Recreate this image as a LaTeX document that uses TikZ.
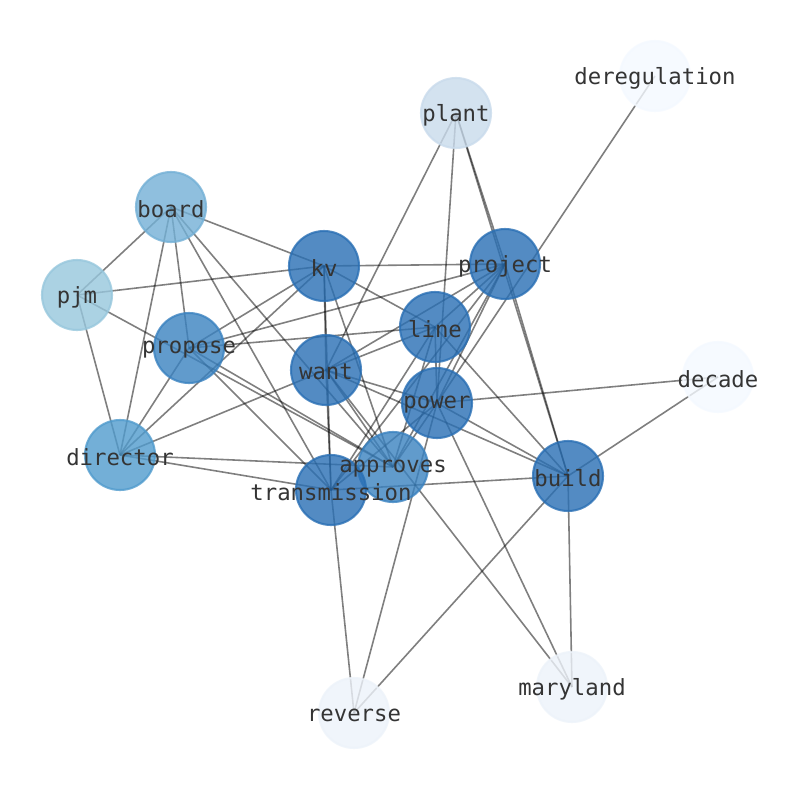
\documentclass[tikz,border=0pt]{standalone}
\usepackage{fontspec}
\setmonofont{DejaVu Sans Mono}
\definecolor{cdark}{RGB}{41,111,180}
\definecolor{cmid}{RGB}{58,130,192}
\definecolor{cdir}{RGB}{80,155,205}
\definecolor{cboard}{RGB}{115,176,214}
\definecolor{cpjm}{RGB}{151,199,221}
\definecolor{cplant}{RGB}{201,219,236}
\definecolor{cpale}{RGB}{244,249,255}
\definecolor{cpale2}{RGB}{237,243,250}
\definecolor{ctext}{RGB}{52,52,52}
\tikzset{
  nd/.style={circle, minimum size=70*0.01in, inner sep=0pt, line width=1.5pt, fill=#1, draw=#1, fill opacity=0.8, draw opacity=0.8},
  lbl/.style={font=\ttfamily\fontsize{16.1}{17}\selectfont, text=ctext, inner sep=0pt, yshift=-2*0.01in},
  ed/.style={draw=black, draw opacity=0.5, line width=1.15pt}
}
\begin{document}
\begin{tikzpicture}[x=0.01in, y=-0.01in]
\useasboundingbox (0,0) rectangle (794,790);
\fill[white] (0,0) rectangle (794,790);
% coordinates
\coordinate (deregulation) at (655,76);
\coordinate (plant) at (456,113);
\coordinate (board) at (171,207);
\coordinate (kv) at (324,266);
\coordinate (project) at (505,264);
\coordinate (pjm) at (77,295);
\coordinate (line) at (435,327);
\coordinate (propose) at (189,348);
\coordinate (want) at (326,370);
\coordinate (decade) at (718,377);
\coordinate (power) at (437,403);
\coordinate (director) at (120,455);
\coordinate (approves) at (393,467);
\coordinate (transmission) at (331,490);
\coordinate (build) at (568,476);
\coordinate (maryland) at (572,687);
\coordinate (reverse) at (354,713);
% edges
\foreach \a/\b in {deregulation/power, plant/want, plant/power, plant/project, plant/build, project/build,
  board/pjm, board/kv, board/propose, board/director, board/transmission, board/approves,
  pjm/kv, pjm/director, pjm/approves,
  kv/project, kv/line, kv/propose, kv/director, kv/transmission, kv/want, kv/approves,
  project/line, project/want, project/propose, project/power, project/approves, project/transmission,
  line/propose, line/want, line/build, line/transmission, line/approves, line/power,
  want/director, want/power, want/build, want/approves, want/transmission, want/maryland,
  power/decade, power/build, power/approves, power/reverse, power/transmission, power/maryland,
  transmission/build, build/decade, build/maryland, build/reverse, transmission/reverse,
  transmission/director, approves/director, propose/transmission, propose/approves, propose/director}
  {\draw[ed] (\a) -- (\b);}
% nodes
\node[nd=cpale] (n-deregulation) at (deregulation) {};
\node[nd=cplant] (n-plant) at (plant) {};
\node[nd=cboard] (n-board) at (board) {};
\node[nd=cdark] (n-kv) at (kv) {};
\node[nd=cdark] (n-project) at (project) {};
\node[nd=cpjm] (n-pjm) at (pjm) {};
\node[nd=cdark] (n-line) at (line) {};
\node[nd=cmid] (n-propose) at (propose) {};
\node[nd=cdark] (n-want) at (want) {};
\node[nd=cpale] (n-decade) at (decade) {};
\node[nd=cdark] (n-power) at (power) {};
\node[nd=cdir] (n-director) at (director) {};
\node[nd=cmid] (n-approves) at (approves) {};
\node[nd=cdark] (n-transmission) at (transmission) {};
\node[nd=cdark] (n-build) at (build) {};
\node[nd=cpale2] (n-maryland) at (maryland) {};
\node[nd=cpale2] (n-reverse) at (reverse) {};
% labels
\foreach \n in {deregulation, plant, board, kv, project, pjm, line, propose, want, decade, power, director, approves, transmission, build, maryland, reverse}
  {\node[lbl] (t-\n) at (\n) {\n};}
\end{tikzpicture}
\end{document}
